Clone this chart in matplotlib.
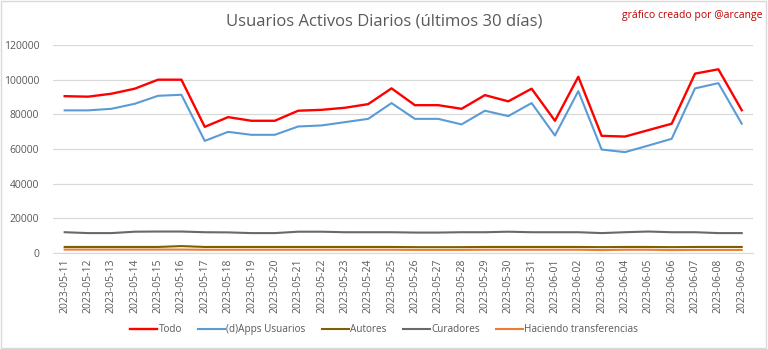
import matplotlib.pyplot as plt
from matplotlib.patches import Rectangle

plt.rcParams['font.family'] = ['Open Sans', 'DejaVu Sans']

fechas = ['2023-05-11', '2023-05-12', '2023-05-13', '2023-05-14', '2023-05-15',
          '2023-05-16', '2023-05-17', '2023-05-18', '2023-05-19', '2023-05-20',
          '2023-05-21', '2023-05-22', '2023-05-23', '2023-05-24', '2023-05-25',
          '2023-05-26', '2023-05-27', '2023-05-28', '2023-05-29', '2023-05-30',
          '2023-05-31', '2023-06-01', '2023-06-02', '2023-06-03', '2023-06-04',
          '2023-06-05', '2023-06-06', '2023-06-07', '2023-06-08', '2023-06-09']

todo = [90500, 90200, 91900, 94800, 100000, 100000, 72800, 78400, 76300, 76300,
        82100, 82600, 83800, 85900, 95000, 85300, 85300, 83200, 91100, 87500,
        94800, 76300, 101700, 67600, 67200, 70900, 74600, 103500, 106000, 82400]
apps = [82300, 82300, 83200, 86100, 90700, 91300, 64700, 69900, 68200, 68200,
        73000, 73600, 75500, 77400, 86500, 77400, 77400, 74200, 82100, 79000,
        86500, 67800, 93400, 59700, 58200, 62000, 65900, 95000, 98000, 74600]
autores = [3500, 3500, 3500, 3500, 3500, 4000, 3500, 3500, 3500, 3500,
           3500, 3500, 3500, 3500, 3500, 3400, 3400, 3400, 3500, 3500,
           3500, 3500, 3500, 3400, 3500, 3500, 3400, 3500, 3500, 3500]
curadores = [12000, 11500, 11500, 12300, 12400, 12400, 12000, 11900, 11500, 11500,
             12300, 12300, 12000, 12000, 12000, 11800, 11800, 12000, 12000, 12300,
             12000, 12000, 12000, 11500, 12000, 12400, 12000, 12000, 11500, 11500]
transferencias = [2000, 2000, 2000, 2000, 2000, 2000, 1900, 1900, 1900, 1900,
                  1900, 1900, 1900, 1900, 1900, 1800, 1800, 1800, 1900, 1900,
                  1900, 1900, 1900, 1700, 1900, 1900, 1700, 1800, 1800, 1800]

series = [('Todo', todo, '#FF0000'),
          ('(d)Apps Usuarios', apps, '#5B9BD5'),
          ('Autores', autores, '#7F6000'),
          ('Curadores', curadores, '#696969'),
          ('Haciendo transferencias', transferencias, '#ED7D31')]

fig = plt.figure(figsize=(7.68, 3.49), dpi=100)
ax = fig.add_axes([0.069, 0.275, 0.912, 0.596])

x = range(len(fechas))
for nombre, vals, color in series:
    ax.plot(x, vals, color=color, lw=1.7 if nombre == 'Todo' else 1.5, label=nombre)

ax.set_xlim(-0.5, len(fechas) - 0.5)
ax.set_ylim(0, 120000)
ax.set_yticks(range(0, 120001, 20000))
ax.set_xticks(list(x))
ax.set_xticklabels(fechas, rotation=90, fontsize=7.5, color='#595959')
ax.tick_params(axis='y', labelsize=7.5, labelcolor='#595959', length=0, pad=10)
ax.tick_params(axis='x', length=0, pad=4)
ax.grid(axis='y', color='#D9D9D9', lw=0.9)
ax.set_axisbelow(True)
for s in ['top', 'right', 'left']:
    ax.spines[s].set_visible(False)
ax.spines['bottom'].set_color('#D9D9D9')

fig.text(0.5, 0.938, 'Usuarios Activos Diarios (últimos 30 días)', ha='center',
         va='center', fontsize=12, color='#595959')
fig.text(0.993, 0.955, 'gráfico creado por @arcange', ha='right', va='center',
         fontsize=7.5, color='#C00000')

fig.legend(loc='center', bbox_to_anchor=(0.5, 0.055), ncol=5, frameon=False,
           fontsize=7.2, labelcolor='#595959', handlelength=2.7,
           columnspacing=1.6, handletextpad=0.15)

fig.patches.append(Rectangle((0.001, 0.002), 0.997, 0.995, transform=fig.transFigure,
                             fill=False, edgecolor='#D9D9D9', lw=1))

fig.savefig('out.png', dpi=100)
